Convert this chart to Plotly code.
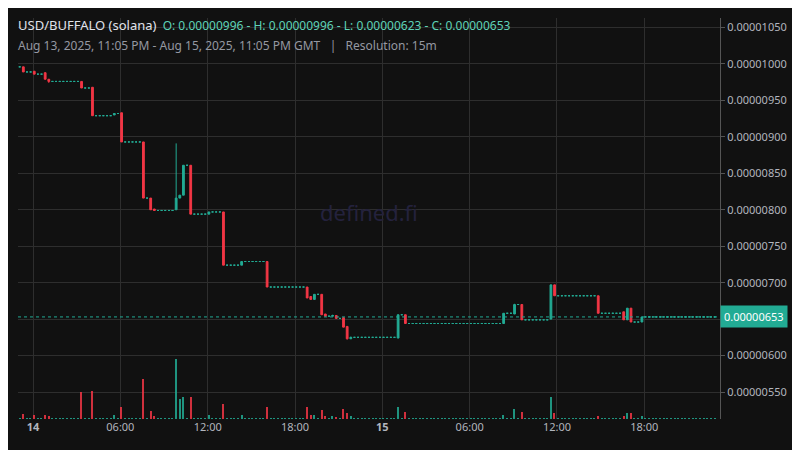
import pandas as pd
import plotly.graph_objects as go

# price events (candle index from start, open, high, low, close, volume); price in 1e-8 USD
event_idx = [1, 4, 7, 8, 17, 20, 26, 28, 34, 36, 37, 43, 44, 45, 47, 52, 56, 61, 68,
             79, 80, 81, 83, 84, 86, 87, 89, 90, 91, 104, 106, 133, 136, 138, 146, 147,
             159, 166, 167, 168, 171]
event_open = [996, 990, 988, 979, 976, 968, 930, 933, 893, 816, 801, 800, 816, 820, 861, 794, 797, 724, 729,
              694, 681, 677, 684, 657, 654, 655, 652, 640, 623, 624, 656, 644, 657, 670, 650, 697,
              682, 660, 649, 665, 646]
event_high = [996, 990, 988, 979, 976, 968, 932, 933, 893, 816, 801, 891, 820, 861, 861, 797, 797, 729, 729,
              694, 681, 684, 684, 657, 656, 655, 652, 640, 626, 656, 656, 658, 671, 670, 697, 697,
              682, 660, 665, 665, 653]
event_low = [989, 986, 979, 974, 967, 929, 930, 893, 816, 800, 799, 800, 816, 820, 794, 794, 724, 724, 694,
             679, 677, 677, 656, 654, 654, 651, 639, 622, 623, 624, 644, 644, 657, 649, 650, 682,
             658, 649, 649, 646, 646]
event_close = [989, 986, 979, 976, 967, 929, 932, 893, 816, 800, 799, 816, 820, 861, 794, 797, 724, 729, 694,
               679, 677, 684, 656, 654, 655, 651, 639, 623, 625, 656, 644, 658, 670, 649, 697, 682,
               658, 649, 665, 646, 653]
event_volume = [5, 4, 4, 3, 27, 28, 4, 12, 40, 8, 3, 60, 20, 22, 22, 4, 15, 4, 12,
                12, 4, 4, 9, 3, 3, 2, 10, 6, 3, 12, 7, 4, 10, 7, 22, 6,
                3, 3, 6, 6, 3]

first_price = 996
n_candles = 192
start = pd.Timestamp("2025-08-13 23:05")
last_price = 653
S = 1e-8

times, vols, vcolors = [], [], []
act = {"o": [], "h": [], "l": [], "c": []}
flat = []
events = {i: k for k, i in enumerate(event_idx)}
prev = first_price
UP, DOWN = "#22ab94", "#f23645"
for i in range(n_candles):
    times.append(start + pd.Timedelta(minutes=15 * i))
    if i in events:
        k = events[i]
        o, h, l, c, v = event_open[k], event_high[k], event_low[k], event_close[k], event_volume[k]
        act["o"].append(o * S); act["h"].append(h * S); act["l"].append(l * S); act["c"].append(c * S)
        flat.append(None)
    else:
        c = prev
        v = 1
        o = c
        for key in act:
            act[key].append(None)
        flat.append(c * S)
    vols.append(v)
    vcolors.append(DOWN if c < o else UP)
    prev = c

fig = go.Figure()
fig.add_trace(go.Bar(
    x=times, y=vols, yaxis="y2", marker_color=vcolors, marker_line_width=0,
    width=15 * 60 * 1000 * 0.35, opacity=0.85, hoverinfo="skip"))
# no-trade candles (flat)
fig.add_trace(go.Candlestick(
    x=times, open=flat, high=flat, low=flat, close=flat,
    increasing=dict(line=dict(color=UP, width=1), fillcolor=UP),
    decreasing=dict(line=dict(color=UP, width=1), fillcolor=UP),
    whiskerwidth=0))
fig.add_trace(go.Candlestick(
    x=times, open=act["o"], high=act["h"], low=act["l"], close=act["c"],
    increasing=dict(line=dict(color=UP, width=1), fillcolor=UP),
    decreasing=dict(line=dict(color=DOWN, width=1), fillcolor=DOWN),
    whiskerwidth=0))

fig.add_hline(y=last_price * S, line=dict(color=UP, width=1, dash="dot"))

tick_vals = [pd.Timestamp("2025-08-14 00:00") + pd.Timedelta(hours=6 * k) for k in range(8)]
tick_text = ["<b>14</b>", "06:00", "12:00", "18:00", "<b>15</b>", "06:00", "12:00", "18:00"]
price_ticks = [550, 600, 650, 700, 750, 800, 850, 900, 950, 1000, 1050]

fig.update_layout(
    width=800, height=450,
    margin=dict(l=10, r=88, t=10, b=39, autoexpand=False),
    paper_bgcolor="#111111", plot_bgcolor="#111111",
    font=dict(family="Noto Sans", color="#b2b5be", size=11),
    showlegend=False,
    xaxis=dict(
        range=[pd.Timestamp("2025-08-13 22:58"), pd.Timestamp("2025-08-15 23:12")],
        tickvals=tick_vals, ticktext=tick_text, gridcolor="#2e2e2e",
        rangeslider=dict(visible=False), showline=False, zeroline=False,
        tickfont=dict(color="#b2b5be", size=11)),
    yaxis=dict(
        side="right", range=[513 * S, 1063 * S],
        tickvals=[p * S for p in price_ticks], tickformat=".8f",
        gridcolor="#2e2e2e", showline=True, linecolor="#555", zeroline=False,
        ticks="outside", ticklen=4, tickcolor="#555"),
    yaxis2=dict(overlaying="y", range=[0, 401], visible=False),
    bargap=0,
)

fig.add_annotation(x=0.0, y=1.0, xref="paper", yref="paper", xanchor="left", yanchor="top",
                   xshift=-2, yshift=4, showarrow=False, align="left",
                   text="<span style='color:#e0e3eb;font-size:13px'>USD/BUFFALO (solana)</span>"
                        "<span style='color:#5fd3b8;font-size:12px'>  O: 0.00000996 - H: 0.00000996 - L: 0.00000623 - C: 0.00000653</span>")
fig.add_annotation(x=0.0, y=1.0, xref="paper", yref="paper", xanchor="left", yanchor="top",
                   xshift=-2, yshift=-17, showarrow=False, font=dict(size=12, color="#9598a1"),
                   text="Aug 13, 2025, 11:05 PM - Aug 15, 2025, 11:05 PM GMT   |   Resolution: 15m")
fig.add_annotation(x=0.5, y=0.515, xref="paper", yref="paper", showarrow=False,
                   text="defined.fi", font=dict(size=22, color="#24223d"))
fig.add_annotation(x=1.0, y=last_price * S, xref="paper", yref="y", xanchor="left",
                   showarrow=False, text="0.00000653", bgcolor=UP, borderpad=3,
                   font=dict(size=11, color="#ffffff"))

fig.write_html("out.html")
